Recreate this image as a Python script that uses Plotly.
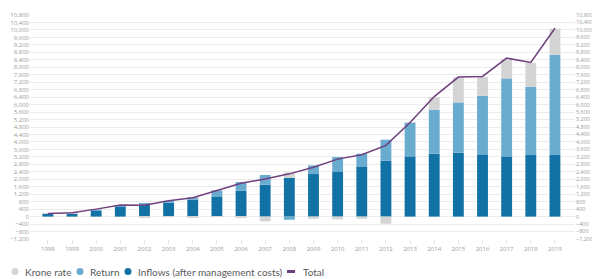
import plotly.graph_objects as go

years = list(range(1998, 2020))
inflows = [140, 160, 300, 550, 660, 740, 905, 1083, 1387, 1708, 2067, 2280, 2422, 2690, 2994,
           3226, 3370, 3423, 3333, 3226, 3298, 3298]
returns = [10, 30, 70, 45, 20, 110, 125, 322, 465, 520, -170, 463, 768, 680, 1125,
           1819, 2356, 2694, 3143, 4177, 3660, 5374]
krone = [10, 15, 25, 20, -70, -20, -30, -20, -80, -257, 300, -120, -150, -120, -380,
         10, 679, 1339, 1001, 1038, 1269, 1392]
total = [160, 210, 400, 615, 605, 850, 1015, 1400, 1785, 2020, 2290, 2640, 3080, 3310, 3815,
         5040, 6430, 7475, 7510, 8490, 8255, 10090]
ytick_vals = list(range(-1200, 10801, 400))
legend_names = ["Krone rate", "Return", "Inflows (after management costs)", "Total"]

c_inflow = "#1372a5"
c_return = "#6aaccf"
c_krone = "#d4d4d4"
c_total = "#6f3f7e"

# page has an 8px body margin; size figure to fit the 600x279 window
OFF = 8
W, H = 600 - OFF, 279 - OFF
ML, MR, MT, MB = 22, 25, 7, 40
PW, PH = W - ML - MR, H - MT - MB


def px(xp):  # page pixel -> paper
    return (xp - OFF - ML) / PW


def py(yp):
    return (H - MB - (yp - OFF)) / PH


fig = go.Figure()
fig.add_trace(go.Bar(x=years, y=inflows, marker_color=c_inflow, showlegend=False,
                     name=legend_names[2], marker_line_width=0))
fig.add_trace(go.Bar(x=years, y=returns, marker_color=c_return, showlegend=False,
                     name=legend_names[1], marker_line_width=0))
fig.add_trace(go.Bar(x=years, y=krone, marker_color=c_krone, showlegend=False,
                     name=legend_names[0], marker_line_width=0))
fig.add_trace(go.Scatter(x=years, y=total, mode="lines", line=dict(color=c_total, width=1.5),
                         showlegend=False, name=legend_names[3]))
fig.add_trace(go.Scatter(x=[years[0]], y=[0], yaxis="y2", mode="markers",
                         marker=dict(opacity=0), showlegend=False, hoverinfo="skip"))

# custom legend (shapes + real text annotations)
shapes = []
annotations = []
ly = 271.5
items = [(15, 23, c_krone), (80, 88, c_return), (128, 136, c_inflow)]
for (cx, tx, col), nm in zip(items, legend_names[:3]):
    shapes.append(dict(type="circle", xref="paper", yref="paper",
                       xsizemode="pixel", ysizemode="pixel",
                       xanchor=px(cx), yanchor=py(ly), x0=-3.5, x1=3.5, y0=-3.5, y1=3.5,
                       fillcolor=col, line=dict(width=0)))
    annotations.append(dict(x=px(tx), y=py(ly), xref="paper", yref="paper", text=nm,
                            showarrow=False, xanchor="left", yanchor="middle",
                            font=dict(size=10, color="#5a5a5a", family="Lato")))
shapes.append(dict(type="line", xref="paper", yref="paper", x0=px(287), x1=px(295),
                   y0=py(ly), y1=py(ly), line=dict(color=c_total, width=3)))
annotations.append(dict(x=px(301), y=py(ly), xref="paper", yref="paper", text=legend_names[3],
                        showarrow=False, xanchor="left", yanchor="middle",
                        font=dict(size=10, color="#5a5a5a", family="Lato")))

axis_font = dict(size=6, color="#9a9a9a", family="Open Sans")
axis_font_r = dict(size=5.5, color="#9a9a9a", family="Open Sans")
fig.update_layout(
    width=W, height=H,
    margin=dict(l=ML, r=MR, t=MT, b=MB, autoexpand=False),
    barmode="relative", bargap=0.55,
    plot_bgcolor="white", paper_bgcolor="white",
    font=dict(family="Open Sans", color="#555555"),
    showlegend=False,
    xaxis=dict(range=[1997.26, 2019.83], tickvals=years, ticktext=[str(y) for y in years],
               tickfont=axis_font, showgrid=False, zeroline=False,
               ticks="outside", ticklen=4, tickcolor="#dfe6ee", showline=False,
               automargin=False),
    yaxis=dict(range=[-1200, 10800], tickvals=ytick_vals, tickformat=",",
               tickfont=axis_font, gridcolor="#ececec", gridwidth=1,
               zeroline=True, zerolinecolor="#ececec", zerolinewidth=1, fixedrange=True,
               automargin=False),
    yaxis2=dict(range=[-1200, 10800], tickvals=ytick_vals, tickformat=",",
                tickfont=axis_font_r, overlaying="y", side="right", showgrid=False,
                zeroline=False, automargin=False),
    shapes=shapes,
    annotations=annotations,
)

fig.write_html("out.html")
